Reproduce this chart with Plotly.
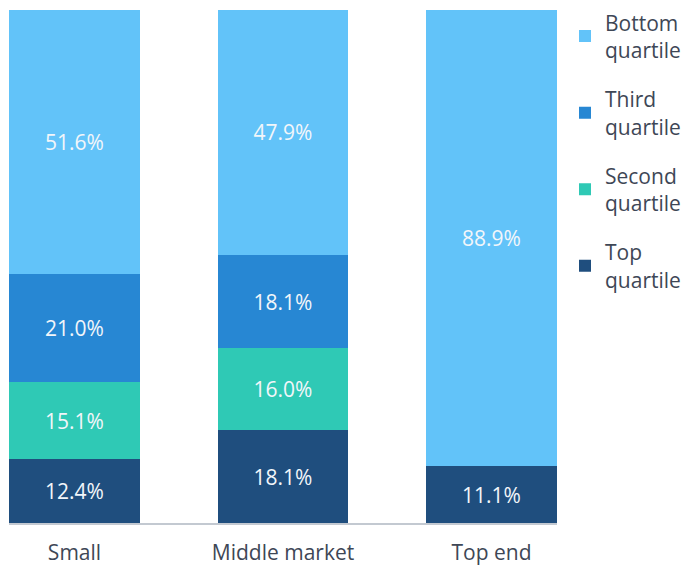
import plotly.graph_objects as go

categories = ["Small", "Middle market", "Top end"]
top_quartile = [12.4, 18.1, 11.1]
second_quartile = [15.1, 16.0, 0]
third_quartile = [21.0, 18.1, 0]
bottom_quartile = [51.6, 47.9, 88.9]

# stacking order from the axis upwards; legend lists them top-down
series = [
    ("Top<br>quartile", top_quartile, "#1F4E7E"),
    ("Second<br>quartile", second_quartile, "#2FC9B5"),
    ("Third<br>quartile", third_quartile, "#2787D3"),
    ("Bottom<br>quartile", bottom_quartile, "#62C3F9"),
]

FONT = "Open Sans, Noto Sans, sans-serif"

fig = go.Figure()
for i, (name, vals, color) in enumerate(series):
    texts = [f"{v:.1f}%" if v > 0 else "" for v in vals]
    fig.add_trace(go.Bar(
        x=categories,
        y=vals,
        name=name,
        legendgroup=f"g{i}",
        legendrank=len(series) - i,
        marker=dict(color=color, line=dict(width=0)),
        text=texts,
        texttemplate="%{text}",
        textposition="inside",
        insidetextanchor="middle",
        textangle=0,
        textfont=dict(color="#F2F6FA", size=21, family=FONT),
        hoverinfo="skip",
    ))

fig.update_layout(
    barmode="stack",
    bargap=0.3725,
    width=694,
    height=566,
    margin=dict(l=9, r=137, t=10, b=43, autoexpand=False),
    paper_bgcolor="white",
    plot_bgcolor="white",
    font=dict(family=FONT, color="#3E4756", size=21),
    showlegend=True,
    legend=dict(
        traceorder="grouped",
        x=1.0146, xanchor="left",
        yref="container",
        y=0.996, yanchor="top",
        tracegroupgap=19,
        maxheight=540,
        font=dict(size=21, color="#3E4756", family=FONT),
        itemwidth=30,
    ),
    uniformtext=dict(minsize=21, mode="show"),
)
fig.update_xaxes(
    range=[-0.314, 2.314],
    showline=True, linecolor="#C3C9D1", linewidth=1.5,
    ticks="", tickfont=dict(size=21, color="#3E4756", family=FONT),
    ticklabelstandoff=10,
    showgrid=False,
)
fig.update_yaxes(
    range=[0, 100], visible=False, showgrid=False,
)

fig.write_html("out.html")
